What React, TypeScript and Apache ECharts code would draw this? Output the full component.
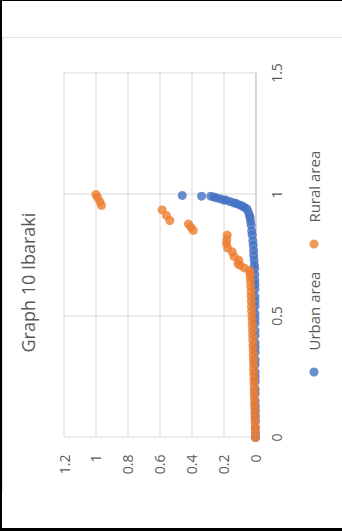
import React, { useEffect, useRef } from "react";
import * as echarts from "echarts";

// Share of area (x) against share of population (y) for each municipality
const seriesNames = ["Urban area", "Rural area"];

const urbanArea: [number, number][] = [
  [0, 0], [0.02, 0], [0.04, 0.001], [0.07, 0.001], [0.09, 0.001], [0.11, 0.001],
  [0.13, 0.001], [0.15, 0.002], [0.18, 0.002], [0.2, 0.002], [0.23, 0.002],
  [0.25, 0.002], [0.27, 0.002], [0.3, 0.002], [0.32, 0.002], [0.35, 0.002],
  [0.37, 0.002], [0.39, 0.003], [0.42, 0.003], [0.44, 0.003], [0.47, 0.003],
  [0.49, 0.003], [0.51, 0.003], [0.54, 0.003], [0.56, 0.003], [0.58, 0.003],
  [0.61, 0.003], [0.63, 0.003], [0.647, 0.004], [0.67, 0.004], [0.695, 0.005],
  [0.71, 0.007], [0.73, 0.009], [0.75, 0.011], [0.77, 0.012], [0.791, 0.014],
  [0.81, 0.017], [0.833, 0.021], [0.85, 0.024], [0.874, 0.027], [0.89, 0.031],
  [0.905, 0.034], [0.915, 0.038], [0.93, 0.046], [0.942, 0.055], [0.947, 0.07],
  [0.953, 0.083], [0.957, 0.1], [0.963, 0.12], [0.966, 0.136], [0.971, 0.16],
  [0.977, 0.185], [0.977, 0.199], [0.982, 0.22], [0.986, 0.245], [0.99, 0.261],
  [0.993, 0.28], [0.993, 0.338], [0.996, 0.459]
];

const ruralArea: [number, number][] = [
  [0, 0], [0.02, 0.001], [0.04, 0.001], [0.06, 0.002], [0.08, 0.003], [0.1, 0.004],
  [0.12, 0.005], [0.14, 0.006], [0.16, 0.007], [0.18, 0.008], [0.2, 0.008],
  [0.22, 0.009], [0.24, 0.01], [0.26, 0.011], [0.28, 0.012], [0.3, 0.012],
  [0.32, 0.013], [0.34, 0.014], [0.36, 0.015], [0.38, 0.016], [0.4, 0.017],
  [0.42, 0.018], [0.44, 0.019], [0.46, 0.02], [0.48, 0.021], [0.5, 0.022],
  [0.52, 0.024], [0.54, 0.025], [0.56, 0.026], [0.58, 0.027], [0.6, 0.028],
  [0.62, 0.03], [0.641, 0.031], [0.66, 0.033], [0.675, 0.035], [0.688, 0.036],
  [0.698, 0.07], [0.708, 0.095], [0.715, 0.11], [0.73, 0.105], [0.745, 0.135],
  [0.764, 0.146], [0.78, 0.175], [0.798, 0.182], [0.815, 0.18], [0.833, 0.177],
  [0.852, 0.39], [0.865, 0.405], [0.879, 0.42], [0.893, 0.537], [0.914, 0.558],
  [0.937, 0.585], [0.955, 0.965], [0.97, 0.975], [0.988, 0.99], [1.0, 1.0]
];

const xTickStep = 0.5;
const xMax = 1.5;
const yTickStep = 0.2;
const yMax = 1.2;

const FONT = "Open Sans";
const TEXT = "#595959";

export default function App() {
  const ref = useRef<HTMLDivElement>(null);

  useEffect(() => {
    if (!ref.current) return;
    const chart = echarts.init(ref.current, undefined, { renderer: "svg" });
    chart.setOption({
      animation: false,
      backgroundColor: "#ffffff",
      textStyle: { fontFamily: FONT },
      title: {
        text: "Graph 10 Ibaraki",
        left: 140,
        top: 16,
        padding: 0,
        textStyle: { fontFamily: FONT, fontSize: 18, fontWeight: "normal", color: TEXT },
      },
      legend: {
        data: seriesNames,
        left: 116,
        top: 304,
        padding: 0,
        icon: "circle",
        itemWidth: 9,
        itemHeight: 9,
        itemGap: 23,
        textStyle: { fontFamily: FONT, fontSize: 15, color: TEXT, padding: [0, 0, 0, 12] },
      },
      grid: { left: 55, right: 35.5, top: 61.5, bottom: 87, containLabel: false },
      xAxis: {
        type: "value",
        min: 0,
        max: xMax,
        interval: xTickStep,
        axisLine: { show: true, lineStyle: { color: "#bfbfbf", width: 1 } },
        axisTick: { show: false },
        axisLabel: { margin: 14, color: TEXT, fontSize: 14, fontFamily: FONT },
        splitLine: { show: true, lineStyle: { color: "#d9d9d9", width: 1 } },
      },
      yAxis: {
        type: "value",
        min: 0,
        max: yMax,
        interval: yTickStep,
        axisLine: { show: false },
        axisTick: { show: false },
        axisLabel: {
          margin: 17,
          color: TEXT,
          fontSize: 14,
          fontFamily: FONT,
          formatter: (v: number) => String(Math.round(v * 10) / 10),
        },
        splitLine: { show: true, lineStyle: { color: "#d9d9d9", width: 1 } },
      },
      series: [
        {
          name: seriesNames[0],
          type: "scatter",
          data: urbanArea,
          symbol: "circle",
          symbolSize: 9,
          itemStyle: { color: "#4472C4" },
        },
        {
          name: seriesNames[1],
          type: "scatter",
          data: ruralArea,
          symbol: "circle",
          symbolSize: 9,
          itemStyle: { color: "#ED7D31" },
        },
      ],
    });
    return () => chart.dispose();
  }, []);

  return (
    <div
      style={{
        position: "fixed",
        left: 0,
        top: 0,
        width: 342,
        height: 531,
        background: "#ffffff",
        overflow: "hidden",
      }}
    >
      <div style={{ position: "absolute", left: 0, top: 0, width: 342, height: 1.3, background: "#000" }} />
      <div style={{ position: "absolute", left: 0, top: 0, width: 2.3, height: 531, background: "#000" }} />
      <div style={{ position: "absolute", left: 0, top: 528, width: 342, height: 3, background: "#000" }} />
      <div
        style={{
          position: "absolute",
          left: 2,
          top: 37,
          width: 340,
          height: 455,
          border: "1px solid #d9d9d9",
          boxSizing: "border-box",
        }}
      />
      {/* chart laid out landscape, then turned a quarter anticlockwise */}
      <div
        ref={ref}
        style={{
          position: "absolute",
          left: -55.5,
          top: 94.5,
          width: 455,
          height: 340,
          transform: "rotate(-90deg)",
          transformOrigin: "50% 50%",
        }}
      />
    </div>
  );
}
